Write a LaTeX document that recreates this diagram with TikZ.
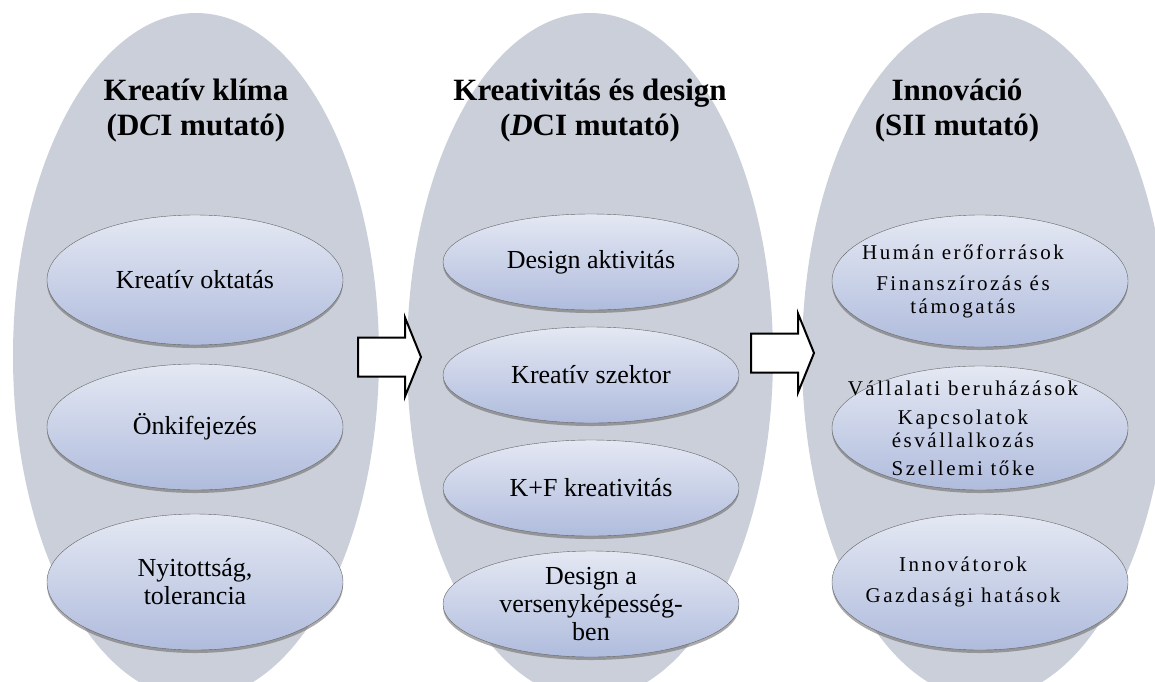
\documentclass[tikz,border=0pt]{standalone}
\usepackage{fontspec}
\setmainfont{Liberation Serif}
\newfontfamily\widefont[LetterSpace=12]{Liberation Serif}
\usepackage{tikz}
\usetikzlibrary{shapes.geometric,shadows,positioning}
\definecolor{ovalgray}{RGB}{203,207,217}
\definecolor{itemtop}{RGB}{228,232,243}
\definecolor{itembot}{RGB}{176,188,221}
\tikzset{
    bigoval/.style={
        ellipse,
        fill=ovalgray,
        minimum width=366pt,
        minimum height=686pt
    },
    item/.style={
        ellipse,
        draw=black!60, thin,
        top color=itemtop,
        bottom color=itembot,
        minimum width=296pt,
        drop shadow={shadow xshift=0pt, shadow yshift=-3pt,
            fill=black!60, opacity=0.55}
    },
    heading/.style={align=center, font={\bfseries\fontsize{31pt}{35pt}\selectfont}},
    itemtext/.style={align=center, font={\fontsize{26pt}{28pt}\selectfont}},
    smalltext/.style={align=center, font={\widefont\fontsize{21pt}{23pt}\selectfont}},
    blockarrow/.style={draw, fill=white, line width=2pt, line join=miter},
}

\begin{document}
\begin{tikzpicture}[x=1pt, y=-1pt]
\useasboundingbox (0,0) rectangle (1155,681);
\clip (0,0) rectangle (1155,681);

% the three grey columns
\foreach \x [count=\i] in {196,590,985}
  \node [bigoval] (col-\i) at (\x,356) {};

\foreach \x/\l [count=\i] in {196/{Kreatív klíma\\(D\textit{C}I mutató)},
    590/{Kreativitás és design\\(\textit{D}CI mutató)},
    957/{Innováció\\(SII mutató)}}
  \node [heading] (head-\i) at (\x,111) {\l};

% left column
\foreach \y/\h [count=\i] in {280/130, 427/126, 582/136}
  \node [item, minimum height=\h pt] (left-\i) at (195,\y) {};

\foreach \l [count=\i] in {Kreatív oktatás, Önkifejezés, {Nyitottság,\\tolerancia}}
  \node [itemtext] (left-txt-\i) at (left-\i) {\l};

% middle column
\foreach \y/\h [count=\i] in {262/96, 375/96, 488/96, 604/106}
  \node [item, minimum height=\h pt] (mid-\i) at (591,\y) {};

\foreach \l [count=\i] in {Design aktivitás, Kreatív szektor, K+F kreativitás,
    {Design a\\versenyképesség-\\ben}}
  \node [itemtext] (mid-txt-\i) at (mid-\i) {\l};

% right column
\foreach \y/\h [count=\i] in {281/132, 428/124, 582/136}
  \node [item, minimum height=\h pt] (right-\i) at (980,\y) {};

\foreach \l [count=\i] in {{Humán erőforrások\\[8pt]Finanszírozás és\\támogatás},
    {Vállalati beruházások\\[6pt]Kapcsolatok\\ésvállalkozás\\[5pt]Szellemi tőke},
    {Innovátorok\\[8pt]Gazdasági hatások}}
  \node [smalltext, xshift=-17pt] (right-txt-\i) at (right-\i) {\l};

% block arrows between the columns
\foreach \x/\y in {358/357, 751/353}
  \draw [blockarrow] (\x,\y) ++(0,-19.5) -- ++(47,0) -- ++(0,-20) -- ++(16,39.5)
    -- ++(-16,39.5) -- ++(0,-20) -- ++(-47,0) -- cycle;

\end{tikzpicture}
\end{document}
